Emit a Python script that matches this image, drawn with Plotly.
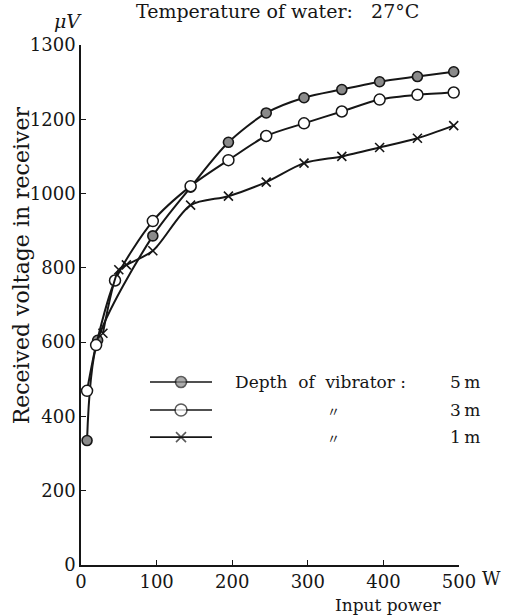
import plotly.graph_objects as go

# ---- data ----
power_5m = [8, 22, 95, 145, 195, 245, 295, 345, 395, 445, 493]
volt_5m = [335, 605, 886, 1017, 1138, 1217, 1258, 1280, 1301, 1315, 1328]

power_3m = [8, 20, 45, 95, 145, 195, 245, 295, 345, 395, 445, 493]
volt_3m = [469, 592, 766, 926, 1020, 1090, 1155, 1189, 1221, 1253, 1266, 1272]

power_1m = [29, 50, 60, 95, 145, 195, 245, 295, 345, 395, 445, 493]
volt_1m = [624, 795, 808, 846, 969, 993, 1031, 1082, 1100, 1124, 1149, 1183]

x_tickvals = [0, 100, 200, 300, 400, 500]
x_ticktext = ["0", "100", "200", "300", "400", "500"]
y_tickvals = [0, 200, 400, 600, 800, 1000, 1200, 1400]
y_ticktext = ["0", "200", "400", "600", "800", "1000", "1200", "1300"]

legend_labels = ["Depth\u00a0 of\u00a0 vibrator\u00a0:", "\u3003", "\u3003"]
legend_depths = ["5\u2009m", "3\u2009m", "1\u2009m"]

FONT = "DejaVu Serif"
INK = "#161616"

fill_marker = dict(symbol="circle", size=10, color="#8a8a8a", line=dict(color=INK, width=1.6))
open_marker = dict(symbol="circle", size=11, color="white", line=dict(color=INK, width=1.5))
x_marker = dict(symbol="x-thin", size=9, color=INK, line=dict(color=INK, width=1.6))
markers = [fill_marker, open_marker, x_marker]

fig = go.Figure()
for xs, ys, mk in [(power_5m, volt_5m, fill_marker), (power_3m, volt_3m, open_marker), (power_1m, volt_1m, x_marker)]:
    fig.add_trace(go.Scatter(
        x=xs, y=ys, mode="lines+markers",
        line=dict(color=INK, width=2, shape="spline", smoothing=0.8),
        marker=mk, cliponaxis=False, showlegend=False, hoverinfo="skip",
    ))

# ---- custom legend (drawn on an overlay axis in plot-fraction units) ----
row_y = [0.352, 0.298, 0.246]
for yy, mk in zip(row_y, markers):
    fig.add_trace(go.Scatter(
        x=[0.1825, 0.2646, 0.3466], y=[yy, yy, yy], xaxis="x2", yaxis="y2",
        mode="lines+markers",
        line=dict(color=INK, width=1.6),
        marker=dict(mk, size=[0, mk["size"] + 1, 0]),
        showlegend=False, hoverinfo="skip", cliponaxis=False,
    ))

annotations = []
for i, (yy, lab, dep) in enumerate(zip(row_y, legend_labels, legend_depths)):
    if i == 0:
        annotations.append(dict(x=0.402, y=yy, xref="paper", yref="paper", text=lab,
                                showarrow=False, xanchor="left", yanchor="middle",
                                font=dict(family=FONT, size=17, color=INK)))
    else:
        annotations.append(dict(x=0.669, y=yy, xref="paper", yref="paper", text=lab,
                                showarrow=False, xanchor="center", yanchor="middle",
                                font=dict(family="Noto Sans CJK JP", size=13, color=INK)))
    annotations.append(dict(x=0.971, y=yy, xref="paper", yref="paper", text=dep,
                            showarrow=False, xanchor="left", yanchor="middle",
                            font=dict(family=FONT, size=17, color=INK)))

annotations += [
    dict(x=0.52, y=1.065, xref="paper", yref="paper",
         text="Temperature of water:\u00a0\u00a0\u00a027\u00b0C",
         showarrow=False, xanchor="center", yanchor="middle",
         font=dict(family=FONT, size=19, color=INK)),
    dict(x=-0.034, y=1.046, xref="paper", yref="paper", text="<i>\u03bcV</i>",
         showarrow=False, xanchor="center", yanchor="middle",
         font=dict(family=FONT, size=19, color=INK)),
    dict(x=-0.155, y=0.577, xref="paper", yref="paper", text="Received voltage in receiver",
         showarrow=False, xanchor="center", yanchor="middle", textangle=-90,
         font=dict(family=FONT, size=22, color=INK)),
    dict(x=0.812, y=-0.077, xref="paper", yref="paper", text="Input power",
         showarrow=False, xanchor="center", yanchor="middle",
         font=dict(family=FONT, size=17, color=INK)),
    dict(x=1.087, y=-0.025, xref="paper", yref="paper", text="W",
         showarrow=False, xanchor="center", yanchor="middle",
         font=dict(family=FONT, size=18, color=INK)),
]

fig.update_layout(
    width=507, height=615,
    margin=dict(l=81, r=48, t=45, b=50),
    paper_bgcolor="white", plot_bgcolor="white",
    font=dict(family=FONT, size=18, color=INK),
    xaxis=dict(range=[0, 500], tickvals=x_tickvals, ticktext=x_ticktext,
               showline=True, linecolor=INK, linewidth=1.6, ticks="inside",
               ticklen=5, tickcolor=INK, tickwidth=1.2, showgrid=False, zeroline=False,
               tickfont=dict(family=FONT, size=18, color=INK)),
    yaxis=dict(range=[0, 1400], tickvals=y_tickvals, ticktext=y_ticktext,
               showline=True, linecolor=INK, linewidth=1.6, ticks="inside",
               ticklen=5, tickcolor=INK, tickwidth=1.2, showgrid=False, zeroline=False,
               tickfont=dict(family=FONT, size=18, color=INK)),
    xaxis2=dict(range=[0, 1], overlaying="x", visible=False),
    yaxis2=dict(range=[0, 1], overlaying="y", visible=False),
    annotations=annotations,
    showlegend=False,
)

fig.write_html("out.html")
